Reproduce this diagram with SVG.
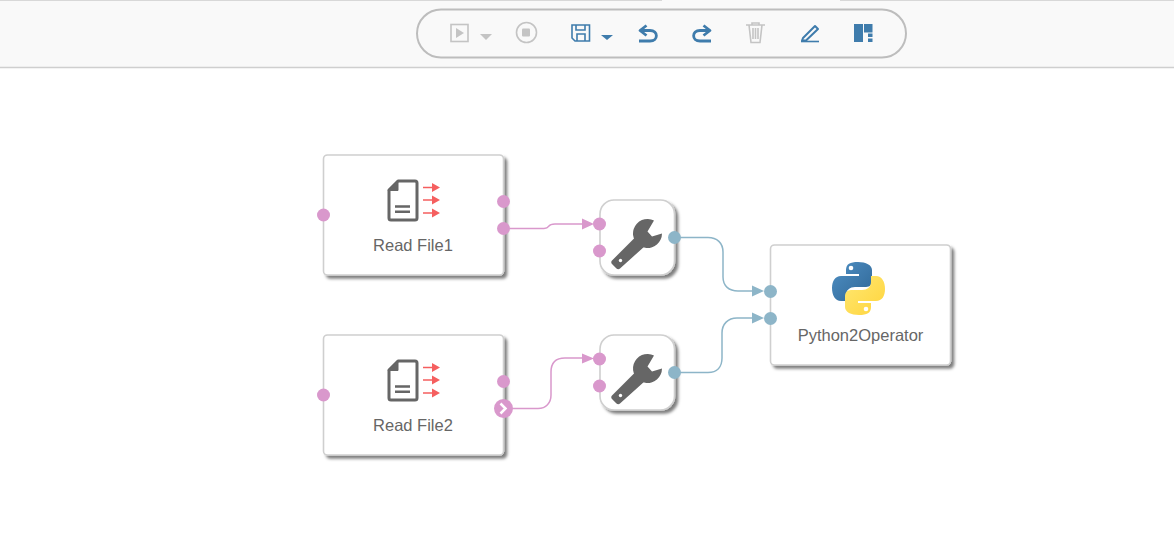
<svg xmlns="http://www.w3.org/2000/svg" width="1174" height="536" viewBox="0 0 1174 536">
<style>
.card{fill:#fff;stroke:#cfcfcf;stroke-width:1.6;filter:url(#sh)}
.lbl{font-family:"Liberation Sans",Arial,sans-serif;font-size:16.5px;fill:#666;text-anchor:middle}
.pp{fill:#d998cc}.bp{fill:#8db5c8}
.cp{fill:none;stroke:#d998cc;stroke-width:1.5}.cb{fill:none;stroke:#8db5c8;stroke-width:1.5}
.doc{fill:none;stroke:#666;stroke-width:3;stroke-linejoin:round}
.ar{stroke:#f55f5f;stroke-width:1.6;fill:none}.arh{fill:#f55f5f}
.g{fill:none;stroke:#c4c4c4;stroke-width:1.6}.gf{fill:#c4c4c4}
.b{fill:none;stroke:#3f7cac;stroke-width:1.6}.bw{fill:none;stroke:#3f7cac;stroke-width:2.8;stroke-linejoin:round}.bf{fill:#3f7cac}
</style>
<defs>
<filter id="sh" x="-10%" y="-10%" width="125%" height="125%"><feDropShadow dx="3" dy="3" stdDeviation="1.8" flood-color="#000" flood-opacity=".5"/></filter>
<linearGradient id="py1" x1="0" y1="0" x2="1" y2="1"><stop offset="0" stop-color="#4f90c4"/><stop offset="1" stop-color="#2f6696"/></linearGradient>
<linearGradient id="py2" x1="0" y1="0" x2="1" y2="1"><stop offset="0" stop-color="#ffe873"/><stop offset="1" stop-color="#ffd43b"/></linearGradient>
<g id="file">
<path class="doc" d="M398 181H415Q417 181 417 183V218Q417 220 415 220H391Q389 220 389 218V190Z"/><path d="M388 190.500L398 180V190.500Z" fill="#666" stroke="#666" stroke-linejoin="round"/>
<path d="M395 206.500H410M395 211.700H410" stroke="#666" stroke-width="2.400"/>
<g class="ar"><path d="M423 187.500H434M423 200H434M423 213H434"/></g>
<path class="arh" d="M432 183L440 187.500L432 192ZM432 195.500L440 200L432 204.500ZM432 208.500L440 213L432 217.500Z"/>
</g>
<g id="wrench">
<path fill="#666" d="M654 220.500A14.500 14.500 0 1 0 662 233.500L652 236.500L647.500 231.500ZM635 237.500L612 260.500C611 261.500 611 263 612 264L616.500 268.500C617.500 269.500 619 269.500 620 268.500L645 246Z"/>
<circle cx="620.500" cy="260.500" r="1.700" fill="#fff"/>
</g>
</defs>
<rect width="1174" height="536" fill="#fff"/>
<rect width="1174" height="67" fill="#f9f9f9"/>
<path d="M0 67.500H1174" stroke="#cfcfcf" stroke-width="1.500"/>
<path d="M0 .5H662M840 .5H1174" stroke="#d8d8d8"/>
<g id="toolbar">
<rect x="417" y="9.500" width="489" height="48" rx="24" fill="#f9f9f9" stroke="#bdbdbd" stroke-width="2"/>
<rect x="451" y="24.500" width="17" height="17" class="g"/><path d="M456 28L464 33L456 38Z" class="gf"/>
<path d="M480 34H492L486 40Z" class="gf"/>
<circle cx="526.500" cy="32.500" r="10" class="g"/><rect x="522" y="28.500" width="8" height="8" rx="1" class="gf"/>
<path class="b" d="M572 25H589.500V41H575L572 38Z"/><path class="b" d="M576 25V30H585V25M577 41V34H585V41"/>
<path d="M601 35H613L607 40Z" class="bf"/>
<path class="bw" d="M640 30.500H650C658.500 30.500 658.500 41 650 41H639"/><path class="bw" d="M646.500 25.500L640 30.500L646.500 35.500"/>
<path class="bw" d="M710 30.500H700C691.500 30.500 691.500 41 700 41H711"/><path class="bw" d="M703.500 25.500L710 30.500L703.500 35.500"/>
<path class="g" d="M746 25H765M749 25L751 42.500H760L762 25M752 25V23H759V25M753 28V39M755.500 28V39M758 28V39"/>
<path class="bw" style="stroke-width:2" d="M803 38L815 26L818 29L806 40.500L802 40.500Z"/><path class="b" d="M801 41.500H819"/>
<path class="bf" d="M854 24H863V42H854ZM864 24H872.500V32.500H864ZM868 33.500H872.500V37H868ZM868 38.500H872.500V42H868Z"/>
</g>
<g id="connectors">
<path class="cp" d="M504 228.500H544C551 228.500 546 224 555 224H584"/>
<path class="cp" d="M504 408.500H538C546 408.500 551 403 551 395V372C551 363 556 358 565 358H584"/>
<path class="cb" d="M675 237.500H708C717 237.500 723 243 723 252V277C723 286 729 291 738 291H754"/>
<path class="cb" d="M675 372.500H708C717 372.500 722 367 722 358V333C722 324 728 318 737 318H754"/>
<path class="pp" d="M582 218.500L594 224L582 229.500ZM582 353.500L594 358.500L582 363.500Z"/>
<path class="bp" d="M752 285.500L764 291L752 296.500ZM752 312.500L764 318L752 323.500Z"/>
</g>
<g id="read-file-1">
<rect class="card" x="323.500" y="155" width="180" height="120" rx="4"/>
<use href="#file"/>
<text class="lbl" x="413" y="250.500">Read File1</text>
<circle class="pp" cx="323.500" cy="215" r="6.500"/><circle class="pp" cx="503.500" cy="201.500" r="6.500"/><circle class="pp" cx="503.500" cy="228.500" r="6.500"/>
</g>
<g id="read-file-2">
<rect class="card" x="323.500" y="335" width="180" height="120" rx="4"/>
<use href="#file" y="180"/>
<text class="lbl" x="413" y="430.500">Read File2</text>
<circle class="pp" cx="323.500" cy="395" r="6.500"/><circle class="pp" cx="503.500" cy="381.500" r="6.500"/><circle class="pp" cx="503.500" cy="408.500" r="9.500"/>
<path d="M500.500 403.500L505.500 408.500L500.500 413.500" fill="none" stroke="#fff" stroke-width="2.500"/>
</g>
<g id="tool-1">
<rect class="card" x="600" y="200" width="74.500" height="75" rx="14"/>
<use href="#wrench"/>
<circle class="pp" cx="599.500" cy="224" r="6.500"/><circle class="pp" cx="599.500" cy="251" r="6.500"/><circle class="bp" cx="674.500" cy="237.500" r="6.500"/>
</g>
<g id="tool-2">
<rect class="card" x="600" y="335" width="74.500" height="75" rx="14"/>
<use href="#wrench" y="135"/>
<circle class="pp" cx="599.500" cy="359" r="6.500"/><circle class="pp" cx="599.500" cy="386" r="6.500"/><circle class="bp" cx="674.500" cy="372.500" r="6.500"/>
</g>
<g id="python2operator">
<rect class="card" x="770.500" y="245" width="180" height="120" rx="4"/>
<path fill="url(#py1)" d="M858 262C850 262 846 264 846 270V274H859V276H841C835 276 832 281 832 288C832 295 835 301 841 301H846V295C846 290 850 287 855 287H866C870 287 872 284 872 281V270C872 265 866 262 858 262Z"/>
<path fill="url(#py2)" d="M859 315C867 315 871 313 871 307V303H858V301H876C882 301 885 296 885 289C885 282 882 276 876 276H871V282C871 287 867 290 862 290H851C847 290 845 293 845 296V307C845 312 851 315 859 315Z"/>
<circle cx="851" cy="268" r="2.300" fill="#fff"/><circle cx="866" cy="309" r="2.300" fill="#fff"/>
<text class="lbl" x="860.500" y="341">Python2Operator</text>
<circle class="bp" cx="770.500" cy="291.500" r="6.500"/><circle class="bp" cx="770.500" cy="318.500" r="6.500"/>
</g>
</svg>
